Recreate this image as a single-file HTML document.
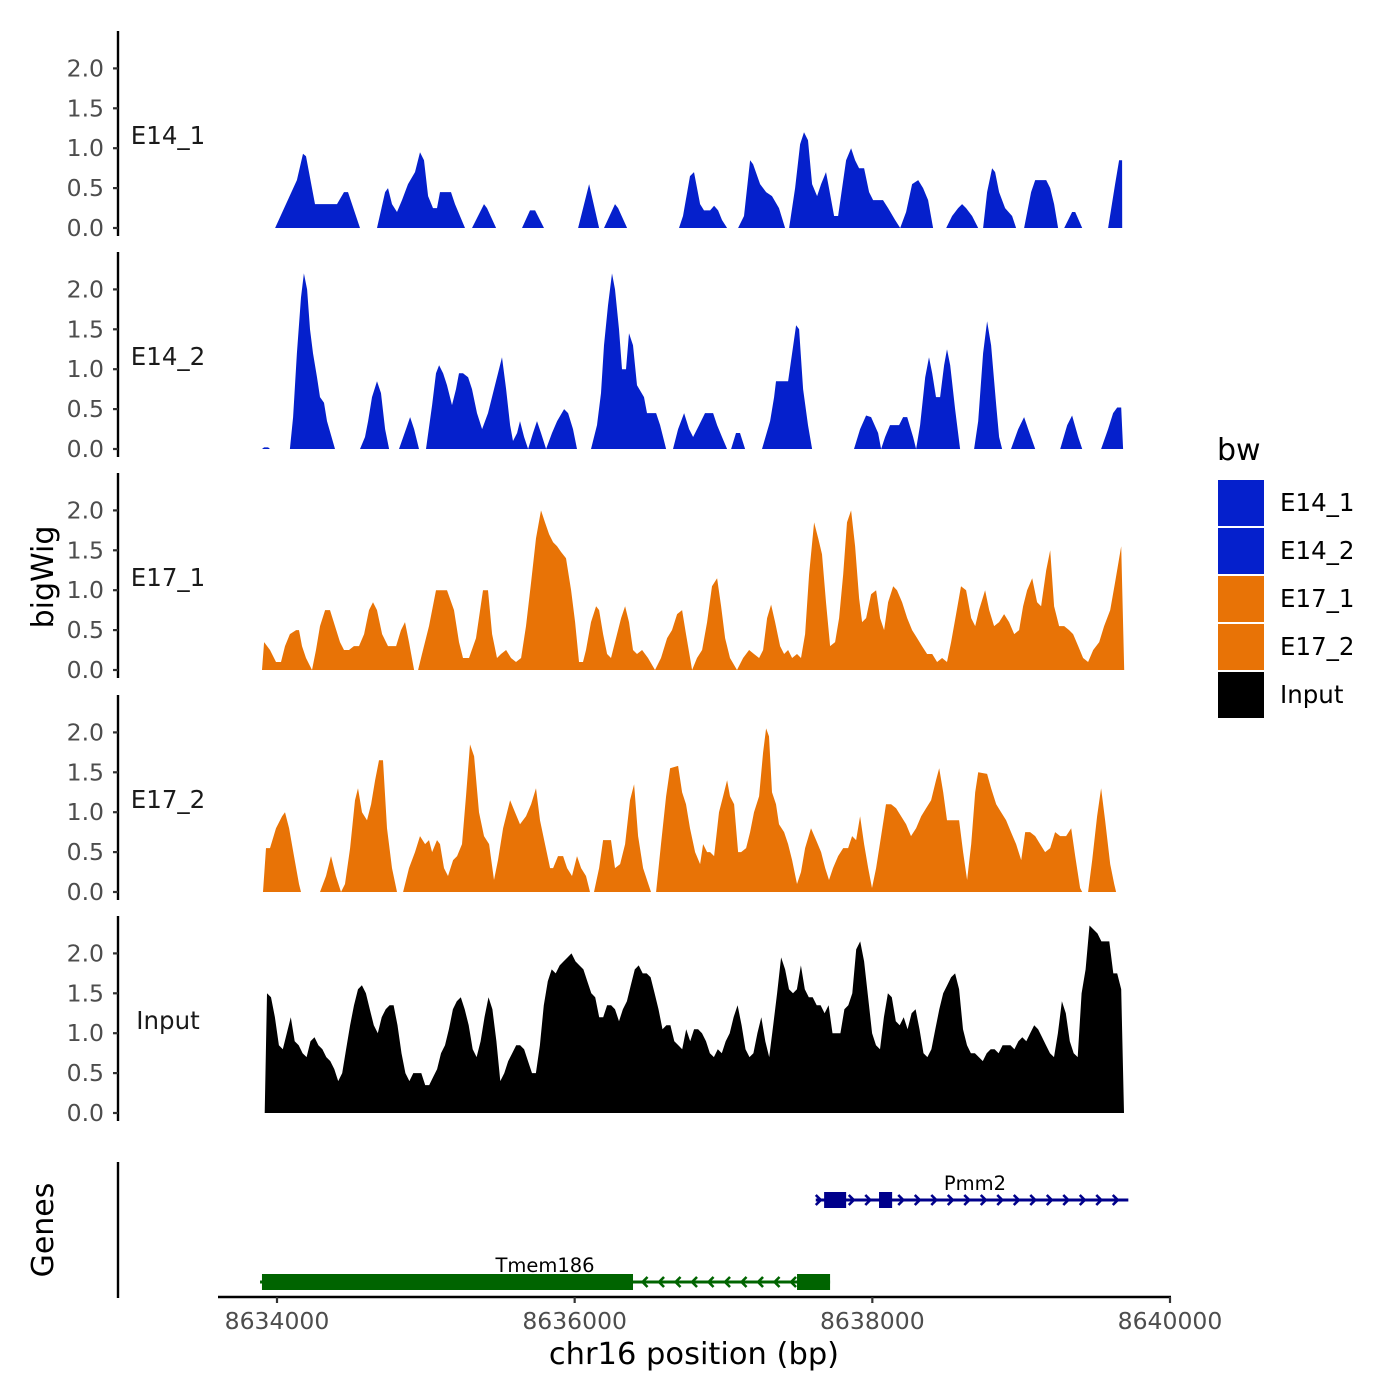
<!DOCTYPE html>
<html><head><meta charset="utf-8">
<style>
html,body{margin:0;padding:0;background:#fff;}
svg{display:block;font-family:"DejaVu Sans","Liberation Sans",sans-serif;}
</style></head>
<body>
<svg id="chart" width="1400" height="1400" viewBox="0 0 1400 1400" xmlns="http://www.w3.org/2000/svg">
<rect width="1400" height="1400" fill="#fff"/>
</svg>
<script>
// ---------- data (positions = bp offset from 8634000, values = coverage) ----------
const REGION_START = 8634000;
const xTicks = [8634000, 8636000, 8638000, 8640000];
const yTicks = [0, 0.5, 1.0, 1.5, 2.0];
const trackNames = ["E14_1", "E14_2", "E17_1", "E17_2", "Input"];
const trackColors = ["#0520CC", "#0520CC", "#E87306", "#E87306", "#000000"];

const E14_1 = [[-13,0],[134,0.6],[175,0.93],[195,0.9],[255,0.3],[403,0.3],[450,0.45],[477,0.45],[558,0],[672,0],[726,0.45],[746,0.5],[773,0.3],[806,0.2],[840,0.35],[880,0.55],[927,0.7],[961,0.95],[988,0.85],[1015,0.4],[1048,0.25],[1075,0.25],[1095,0.45],[1169,0.45],[1196,0.3],[1263,0],[1310,0],[1391,0.3],[1411,0.25],[1472,0],[1646,0],[1700,0.22],[1734,0.22],[1794,0],[2023,0],[2097,0.55],[2164,0],[2197,0],[2271,0.3],[2292,0.25],[2352,0],[2701,0],[2728,0.15],[2775,0.65],[2802,0.7],[2843,0.3],[2869,0.22],[2910,0.22],[2937,0.28],[2964,0.22],[2990,0.1],[3024,0],[3098,0],[3138,0.15],[3179,0.85],[3199,0.8],[3246,0.55],[3286,0.45],[3326,0.4],[3373,0.25],[3414,0],[3441,0],[3481,0.5],[3515,1.05],[3541,1.2],[3568,1.1],[3595,0.55],[3629,0.4],[3656,0.55],[3689,0.7],[3709,0.5],[3743,0.15],[3770,0.15],[3797,0.5],[3824,0.85],[3857,1.0],[3884,0.85],[3911,0.75],[3945,0.75],[3978,0.45],[4005,0.35],[4039,0.35],[4072,0.35],[4106,0.25],[4153,0.1],[4187,0],[4227,0.2],[4267,0.55],[4308,0.6],[4341,0.5],[4375,0.35],[4408,0],[4496,0],[4536,0.15],[4576,0.25],[4603,0.3],[4630,0.25],[4670,0.15],[4711,0],[4744,0],[4771,0.45],[4805,0.75],[4825,0.7],[4852,0.45],[4892,0.25],[4939,0.15],[4966,0],[5020,0],[5067,0.45],[5094,0.6],[5168,0.6],[5195,0.5],[5221,0.3],[5248,0],[5289,0],[5342,0.2],[5363,0.2],[5410,0],[5584,0],[5631,0.55],[5658,0.85],[5678,0.85],[5679,0]];

const E14_2 = [[-101,0],[-87,0.02],[-60,0.02],[-47,0],[87,0],[108,0.4],[134,1.2],[161,1.9],[181,2.2],[202,2.0],[222,1.5],[242,1.2],[269,0.9],[289,0.65],[316,0.58],[336,0.35],[390,0],[558,0],[591,0.15],[612,0.35],[638,0.65],[672,0.85],[699,0.7],[726,0.25],[753,0],[820,0],[867,0.25],[894,0.4],[921,0.25],[954,0],[1001,0],[1042,0.55],[1068,0.95],[1089,1.05],[1116,0.95],[1142,0.8],[1176,0.55],[1203,0.75],[1223,0.95],[1250,0.95],[1284,0.9],[1310,0.75],[1344,0.45],[1378,0.25],[1418,0.45],[1458,0.75],[1485,0.95],[1512,1.15],[1539,0.75],[1566,0.3],[1586,0.1],[1613,0.2],[1633,0.35],[1660,0.15],[1687,0],[1720,0.2],[1747,0.35],[1774,0.2],[1808,0],[1848,0.2],[1882,0.35],[1929,0.5],[1956,0.45],[1989,0.25],[2016,0],[2110,0],[2150,0.3],[2177,0.7],[2197,1.3],[2224,1.8],[2251,2.2],[2271,2.0],[2298,1.5],[2318,1.0],[2345,1.0],[2365,1.45],[2392,1.3],[2419,0.8],[2466,0.65],[2486,0.45],[2547,0.45],[2574,0.3],[2614,0],[2661,0],[2695,0.25],[2735,0.45],[2769,0.25],[2796,0.15],[2836,0.3],[2876,0.45],[2930,0.45],[2957,0.3],[2990,0.15],[3024,0],[3051,0],[3084,0.2],[3111,0.2],[3145,0],[3259,0],[3313,0.35],[3340,0.65],[3353,0.85],[3434,0.85],[3461,1.2],[3488,1.55],[3508,1.5],[3535,0.75],[3568,0.3],[3595,0],[3877,0],[3918,0.25],[3958,0.42],[3992,0.4],[4039,0.2],[4059,0],[4086,0.15],[4119,0.3],[4146,0.3],[4180,0.3],[4207,0.4],[4234,0.4],[4274,0.15],[4294,0],[4321,0.3],[4355,0.9],[4381,1.15],[4402,0.95],[4428,0.65],[4455,0.65],[4482,1.05],[4502,1.25],[4523,1.05],[4556,0.5],[4590,0],[4684,0],[4711,0.35],[4744,1.2],[4771,1.6],[4798,1.3],[4832,0.55],[4852,0.15],[4872,0],[4932,0],[4980,0.25],[5020,0.4],[5047,0.25],[5094,0],[5262,0],[5309,0.3],[5342,0.42],[5383,0.15],[5410,0],[5537,0],[5584,0.25],[5618,0.45],[5645,0.52],[5672,0.52],[5685,0]];

const E17_1 = [[-101,0],[-87,0.35],[-47,0.25],[-7,0.1],[27,0.1],[54,0.3],[87,0.45],[128,0.5],[148,0.5],[168,0.3],[195,0.15],[235,0],[262,0.25],[289,0.55],[323,0.75],[356,0.75],[390,0.55],[423,0.35],[450,0.25],[484,0.25],[517,0.3],[551,0.3],[585,0.45],[618,0.75],[645,0.85],[672,0.75],[706,0.45],[746,0.3],[800,0.3],[833,0.5],[860,0.6],[887,0.35],[921,0],[948,0],[974,0.2],[1021,0.55],[1068,1.0],[1142,1.0],[1189,0.75],[1223,0.35],[1250,0.15],[1290,0.15],[1337,0.4],[1384,1.0],[1418,1.0],[1445,0.45],[1478,0.15],[1505,0.2],[1539,0.25],[1572,0.15],[1606,0.1],[1640,0.15],[1673,0.55],[1707,1.1],[1740,1.65],[1774,2.0],[1801,1.85],[1828,1.7],[1855,1.6],[1882,1.55],[1908,1.48],[1942,1.4],[1976,1.0],[2003,0.6],[2029,0.1],[2056,0.1],[2076,0.25],[2110,0.6],[2144,0.8],[2164,0.75],[2191,0.45],[2218,0.2],[2244,0.15],[2271,0.35],[2312,0.65],[2339,0.8],[2365,0.6],[2392,0.25],[2419,0.2],[2453,0.25],[2493,0.15],[2540,0],[2580,0.15],[2621,0.4],[2654,0.5],[2688,0.7],[2722,0.75],[2748,0.45],[2789,0],[2822,0.15],[2856,0.25],[2890,0.6],[2923,1.05],[2957,1.15],[2984,0.8],[3011,0.4],[3044,0.15],[3091,0],[3132,0.15],[3172,0.25],[3205,0.2],[3239,0.15],[3266,0.25],[3293,0.65],[3320,0.82],[3347,0.6],[3380,0.3],[3407,0.2],[3434,0.25],[3461,0.15],[3494,0.2],[3521,0.15],[3548,0.45],[3575,1.2],[3609,1.85],[3636,1.65],[3662,1.45],[3689,0.85],[3716,0.3],[3750,0.35],[3777,0.65],[3804,1.2],[3830,1.85],[3857,2.0],[3884,1.55],[3911,0.9],[3931,0.6],[3958,0.65],[3992,0.95],[4025,1.0],[4052,0.65],[4079,0.5],[4106,0.85],[4140,1.05],[4166,1.0],[4200,0.85],[4234,0.65],[4267,0.5],[4301,0.4],[4334,0.3],[4368,0.2],[4402,0.2],[4435,0.1],[4469,0.15],[4502,0.1],[4529,0.35],[4563,0.7],[4596,1.05],[4630,1.0],[4664,0.65],[4691,0.55],[4717,0.75],[4758,1.0],[4785,0.75],[4818,0.55],[4852,0.6],[4885,0.7],[4919,0.6],[4953,0.45],[4986,0.5],[5013,0.8],[5040,1.0],[5074,1.15],[5107,0.85],[5134,0.8],[5168,1.25],[5195,1.5],[5221,0.8],[5255,0.55],[5289,0.55],[5322,0.5],[5349,0.45],[5383,0.3],[5416,0.15],[5450,0.1],[5484,0.25],[5524,0.35],[5557,0.55],[5598,0.75],[5631,1.1],[5672,1.55],[5692,0]];

const E17_2 = [[-94,0],[-74,0.55],[-47,0.55],[-7,0.8],[34,0.95],[54,1.0],[81,0.8],[114,0.45],[148,0.1],[161,0],[289,0],[329,0.2],[363,0.45],[396,0.2],[430,0],[457,0.1],[491,0.55],[524,1.15],[544,1.3],[571,1.0],[605,0.9],[632,1.1],[659,1.4],[685,1.65],[712,1.65],[739,0.8],[773,0.3],[806,0],[847,0],[887,0.3],[927,0.5],[961,0.7],[995,0.6],[1021,0.65],[1042,0.5],[1075,0.65],[1095,0.6],[1122,0.3],[1149,0.2],[1183,0.4],[1210,0.45],[1243,0.6],[1270,1.2],[1297,1.85],[1324,1.7],[1357,1.0],[1391,0.7],[1425,0.6],[1458,0.15],[1485,0.4],[1519,0.8],[1566,1.15],[1599,1.0],[1633,0.85],[1673,0.95],[1707,1.1],[1740,1.3],[1767,0.9],[1801,0.6],[1835,0.3],[1855,0.3],[1888,0.45],[1922,0.45],[1949,0.3],[1982,0.2],[2016,0.45],[2043,0.3],[2076,0.2],[2103,0],[2130,0],[2164,0.3],[2191,0.65],[2244,0.65],[2271,0.3],[2305,0.35],[2339,0.6],[2372,1.15],[2399,1.35],[2426,0.7],[2460,0.3],[2486,0.15],[2513,0],[2547,0],[2580,0.6],[2614,1.2],[2641,1.55],[2695,1.58],[2722,1.25],[2748,1.1],[2775,0.8],[2809,0.5],[2843,0.35],[2863,0.6],[2890,0.5],[2910,0.5],[2937,0.45],[2970,1.0],[2997,1.2],[3024,1.4],[3044,1.2],[3071,1.1],[3098,0.5],[3118,0.5],[3152,0.55],[3179,0.75],[3205,1.0],[3239,1.2],[3266,1.75],[3286,2.05],[3306,1.95],[3326,1.25],[3353,1.1],[3373,0.85],[3407,0.75],[3434,0.6],[3461,0.4],[3494,0.1],[3521,0.25],[3548,0.55],[3588,0.8],[3622,0.65],[3656,0.5],[3683,0.3],[3709,0.15],[3736,0.3],[3770,0.45],[3804,0.55],[3837,0.55],[3864,0.7],[3891,0.65],[3918,0.95],[3945,0.6],[3972,0.3],[3998,0.05],[4025,0.3],[4059,0.7],[4092,1.1],[4126,1.1],[4160,1.05],[4193,0.95],[4227,0.85],[4260,0.7],[4294,0.8],[4328,0.95],[4361,1.05],[4395,1.15],[4428,1.4],[4449,1.55],[4476,1.25],[4502,0.9],[4529,0.9],[4556,0.9],[4583,0.9],[4610,0.5],[4637,0.15],[4664,0.6],[4691,1.25],[4711,1.5],[4771,1.48],[4798,1.3],[4832,1.1],[4865,1.0],[4899,0.9],[4932,0.75],[4966,0.6],[5000,0.4],[5027,0.75],[5060,0.75],[5094,0.7],[5127,0.6],[5161,0.5],[5195,0.55],[5228,0.75],[5262,0.7],[5302,0.7],[5336,0.8],[5363,0.45],[5396,0.05],[5410,0],[5450,0],[5477,0.4],[5510,0.95],[5537,1.3],[5564,0.9],[5598,0.35],[5625,0.1],[5638,0]];

// Input track stored as equal-width bins from INPUT_START to INPUT_END
const INPUT_START = -67, INPUT_END = 5672;
const Input = [1.5,1.45,1.2,0.85,0.8,1.0,1.2,0.9,0.85,0.75,0.7,0.9,0.95,0.85,0.8,0.7,0.65,0.55,0.4,0.5,0.8,1.1,1.35,1.55,1.6,1.5,1.3,1.1,1.0,1.2,1.3,1.35,1.35,1.1,0.75,0.5,0.4,0.5,0.5,0.5,0.35,0.35,0.45,0.55,0.75,0.85,1.05,1.3,1.4,1.45,1.3,1.1,0.8,0.7,0.9,1.2,1.45,1.3,0.9,0.4,0.5,0.65,0.75,0.85,0.85,0.8,0.65,0.5,0.5,0.85,1.35,1.65,1.8,1.75,1.85,1.9,1.95,2.0,1.9,1.85,1.8,1.65,1.5,1.45,1.2,1.2,1.35,1.35,1.3,1.15,1.3,1.4,1.6,1.8,1.85,1.75,1.75,1.7,1.5,1.3,1.05,1.1,1.1,0.9,0.85,0.8,1.05,0.9,1.05,1.05,1.0,0.9,0.75,0.7,0.8,0.75,0.9,1.0,1.2,1.35,1.1,0.8,0.7,0.75,1.0,1.2,0.9,0.7,1.1,1.5,1.95,1.8,1.55,1.5,1.55,1.85,1.55,1.45,1.45,1.35,1.35,1.25,1.35,1.0,1.0,1.0,1.3,1.35,1.5,2.05,2.15,1.9,1.45,1.0,0.85,0.8,1.2,1.5,1.45,1.15,1.1,1.2,1.05,1.25,1.3,1.05,0.75,0.7,0.8,1.05,1.3,1.5,1.6,1.7,1.75,1.55,1.05,0.85,0.75,0.75,0.7,0.65,0.75,0.8,0.8,0.75,0.85,0.85,0.85,0.8,0.9,0.95,0.9,1.0,1.1,1.05,0.95,0.85,0.75,0.7,1.0,1.4,1.25,0.9,0.75,0.7,1.5,1.8,2.35,2.3,2.25,2.15,2.15,2.15,1.75,1.75,1.55];

// genes (bp offsets from REGION_START)
const geneNames = ["Pmm2", "Tmem186"];
const geneStrands = ["+", "-"];
const geneSpans = [[3620, 5720], [-114, 3716]];
const geneExons = [[[3676, 3824], [4045, 4133]], [[-101, 2392], [3494, 3716]]];
const geneColors = ["#00008B", "#006400"];

// ---------- scales ----------
const X0 = 277, X1 = 1170;
function xs(bp) { return X0 + (bp - 8634000) / 6000 * (X1 - X0); }
function xo(off) { return xs(REGION_START + off); }
const panelBase = [228, 449, 670, 892, 1113];
const PX_PER_UNIT = 79.8;
function ys(p, v) { return panelBase[p] - v * PX_PER_UNIT; }

const NS = "http://www.w3.org/2000/svg";
const svg = document.getElementById("chart");
function el(tag, attrs, parent) {
  const e = document.createElementNS(NS, tag);
  for (const k in attrs) e.setAttribute(k, attrs[k]);
  (parent || svg).appendChild(e);
  return e;
}
function txt(s, attrs, parent) { const t = el("text", attrs, parent); t.textContent = s; return t; }

const series = [E14_1, E14_2, E17_1, E17_2];

for (let p = 0; p < 5; p++) {
  const g = el("g", {});
  
  
  const ax = el("line", {x1:118, x2:118, y1:panelBase[p]-197, y2:panelBase[p]+8, stroke:"#000", "stroke-width":2.4}, g);
  
  
  for (const t of yTicks) {
    const y = ys(p, t);
    const tk = el("line", {x1:113, x2:118, y1:y, y2:y, stroke:"#333", "stroke-width":2.2}, g);
    
    
    const lb = txt(t.toFixed(1), {x:104, y:y+8, "text-anchor":"end", "font-size":23.5, fill:"#4d4d4d"}, g);
    
    
  }
  const nm = txt(trackNames[p], {x:168, y:ys(p,1.15)+8, "text-anchor":"middle", "font-size":24.5, fill:"#1a1a1a"}, g);
  
  

  let d = "";
  if (p < 4) {
    const s = series[p];
    d = "M" + xo(s[0][0]).toFixed(1) + "," + ys(p,0).toFixed(1);
    for (const [o, v] of s) d += "L" + xo(o).toFixed(1) + "," + ys(p, v).toFixed(1);
    d += "L" + xo(s[s.length-1][0]).toFixed(1) + "," + ys(p,0).toFixed(1) + "Z";
  } else {
    const n = Input.length, step = (INPUT_END - INPUT_START) / (n - 1);
    d = "M" + xo(INPUT_START - 0.6*step).toFixed(1) + "," + ys(p,0).toFixed(1);
    Input.forEach((v, i) => { d += "L" + xo(INPUT_START + i*step).toFixed(1) + "," + ys(p, v).toFixed(1); });
    d += "L" + xo(INPUT_END + step*0.7).toFixed(1) + "," + ys(p,0).toFixed(1) + "Z";
  }
  const area = el("path", {d:d, fill:trackColors[p], stroke:"none"}, g);
  
  
}

const yt = txt("bigWig", {x:0, y:0, transform:"translate(53,577) rotate(-90)", "text-anchor":"middle", "font-size":30, fill:"#000"});


const gt = txt("Genes", {x:0, y:0, transform:"translate(53,1230) rotate(-90)", "text-anchor":"middle", "font-size":30, fill:"#000"});



const gax = el("line", {x1:118, x2:118, y1:1162, y2:1298, stroke:"#000", "stroke-width":2.4});


const geneY = [1200, 1282];
const labelX = [975, 545];
for (let i = 0; i < geneNames.length; i++) {
  const g = el("g", {});
  
  
  const y = geneY[i], c = geneColors[i];
  const a = xo(geneSpans[i][0]), b = xo(geneSpans[i][1]);
  el("line", {x1:a, x2:b, y1:y, y2:y, stroke:c, "stroke-width":3}, g);
  const stepPx = 16.5;
  for (let x = a + 4; x <= b + 1; x += stepPx) {
    const dir = geneStrands[i] === "+" ? 1 : -1;
    el("path", {d:`M${x-4*dir},${y-5} L${x+1*dir},${y} L${x-4*dir},${y+5}`, fill:"none", stroke:c, "stroke-width":2.6}, g);
  }
  for (const [s, e] of geneExons[i]) {
    const ex = el("rect", {x:xo(s), y:y-8, width:xo(e)-xo(s), height:16, fill:c}, g);
    
    
  }
  const lb = txt(geneNames[i], {x:labelX[i], y:y-10, "text-anchor":"middle", "font-size":19.5, fill:"#000"}, g);
  
  
}

const xa = el("line", {x1:218, x2:1171, y1:1297, y2:1297, stroke:"#000", "stroke-width":2.4});


for (const t of xTicks) {
  const x = xs(t);
  const tk = el("line", {x1:x, x2:x, y1:1297, y2:1303, stroke:"#333", "stroke-width":2.2});
  
  
  const lb = txt(String(t), {x:x, y:1329, "text-anchor":"middle", "font-size":23.5, fill:"#4d4d4d"});
  
  
}
const xt = txt("chr16 position (bp)", {x:694, y:1364, "text-anchor":"middle", "font-size":30.5, fill:"#000"});



const lg = el("g", {});


const lt = txt("bw", {x:1217, y:460, "font-size":30, fill:"#000"}, lg);


trackNames.forEach((n, i) => {
  const y = 480 + i * 48;
  const k = el("rect", {x:1218, y:y, width:46, height:46, fill:trackColors[i]}, lg);
  
  
  const t = txt(n, {x:1280, y:y+31, "font-size":24.5, fill:"#000"}, lg);
  
  
});
</script>
</body></html>
